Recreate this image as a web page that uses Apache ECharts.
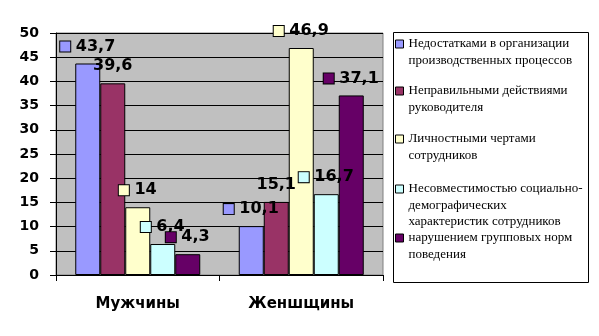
<!DOCTYPE html>
<html>
<head>
<meta charset="utf-8">
<script src="https://cdn.jsdelivr.net/npm/echarts@6/dist/echarts.min.js"></script>
<style>
  html, body { margin: 0; padding: 0; background: #fff; }
  #chart { width: 599px; height: 336px; }
</style>
</head>
<body>
<div id="chart"></div>
<script>
// Categories (groups on the x axis)
const categories = ['Мужчины', 'Женшщины'];

// Series names, as shown in the legend (with line breaks)
const seriesNames = [
  'Недостатками в организации\nпроизводственных процессов',
  'Неправильными действиями\nруководителя',
  'Личностными чертами\nсотрудников',
  'Несовместимостью социально-\nдемографических\nхарактеристик сотрудников',
  'нарушением групповых норм\nповедения'
];

// Values per series: [Мужчины, Женшщины]
const orgProcesses    = [43.7, 10.1];
const managerActions  = [39.6, 15.1];
const personalTraits  = [14, 46.9];
const incompatibility = [6.4, 16.7];
const groupNorms      = [4.3, 37.1];

const seriesValues = [orgProcesses, managerActions, personalTraits, incompatibility, groupNorms];

// Value axis ticks
const yTicks = [0, 5, 10, 15, 20, 25, 30, 35, 40, 45, 50];

const colors = ['#9999FF', '#993366', '#FFFFCC', '#CCFFFF', '#660066'];
// whether the value label carries a colour key
const labelKey = [true, false, true, true, true];
// legend rows: vertical centre of each legend key
const legendKeyCenter = [44, 91, 139, 189, 238];
const LINE_H = 16.5;

const fmt = v => String(v).replace('.', ',');

const series = seriesValues.map((vals, i) => ({
  name: seriesNames[i].replace(/\n/g, ' '),
  type: 'bar',
  data: vals,
  barWidth: 25,
  barGap: '0%',
  itemStyle: { color: colors[i], borderColor: '#000', borderWidth: 1 },
  label: {
    show: true,
    position: 'top',
    distance: 9,
    fontFamily: 'DejaVu Sans',
    fontWeight: 'bold',
    fontSize: 16,
    color: '#000',
    formatter: p => (labelKey[i] ? '{k|} ' : '') + '{v|' + fmt(p.value) + '}',
    rich: {
      k: { width: 10, height: 10, backgroundColor: colors[i], borderColor: '#000', borderWidth: 1 },
      v: { fontFamily: 'DejaVu Sans', fontWeight: 'bold', fontSize: 16, color: '#000' }
    }
  }
}));

// One legend block per series so each key sits beside the first line of its text.
// Leading blank lines keep the first text line level with the key.
const legends = seriesNames.map((n, i) => {
  const lines = n.split('\n').length;
  const text = '\n'.repeat(lines - 1) + n;
  return {
    orient: 'vertical',
    left: 395,
    top: legendKeyCenter[i] - (2 * lines - 1) * LINE_H / 2,
    padding: 0,
    icon: 'rect',
    itemWidth: 8,
    itemHeight: 8,
    itemGap: 0,
    selectedMode: false,
    data: [n.replace(/\n/g, ' ')],
    formatter: () => text,
    itemStyle: { borderColor: '#000', borderWidth: 1 },
    textStyle: {
      fontFamily: 'Liberation Serif',
      fontSize: 13,
      color: '#000',
      lineHeight: LINE_H
    }
  };
});

const chart = echarts.init(document.getElementById('chart'), null, { renderer: 'canvas' });
chart.setOption({
  backgroundColor: '#fff',
  animation: false,
  color: colors,
  graphic: [{
    type: 'rect',
    shape: { x: 393.5, y: 32.5, width: 195, height: 250 },
    style: { fill: '#fff', stroke: '#000', lineWidth: 1 },
    z: -1
  }],
  legend: legends,
  grid: {
    left: 56, right: 216, top: 33, bottom: 61,
    show: true, backgroundColor: '#C0C0C0', borderColor: '#808080', borderWidth: 1
  },
  xAxis: {
    type: 'category',
    data: categories,
    axisLine: { lineStyle: { color: '#000', width: 1 } },
    axisTick: { show: true, length: 6, lineStyle: { color: '#000' } },
    axisLabel: {
      margin: 22,
      fontFamily: 'DejaVu Sans',
      fontWeight: 'bold',
      fontSize: 15,
      color: '#000'
    },
    splitLine: { show: false }
  },
  yAxis: {
    type: 'value',
    min: yTicks[0],
    max: yTicks[yTicks.length - 1],
    interval: yTicks[1] - yTicks[0],
    axisLine: { show: true, lineStyle: { color: '#000', width: 1 } },
    axisTick: { show: true, length: 6, lineStyle: { color: '#000' } },
    axisLabel: {
      margin: 17,
      fontFamily: 'DejaVu Sans',
      fontWeight: 'bold',
      fontSize: 14,
      color: '#000'
    },
    splitLine: { show: true, lineStyle: { color: '#000', width: 1 } }
  },
  series: series
});
</script>
</body>
</html>
